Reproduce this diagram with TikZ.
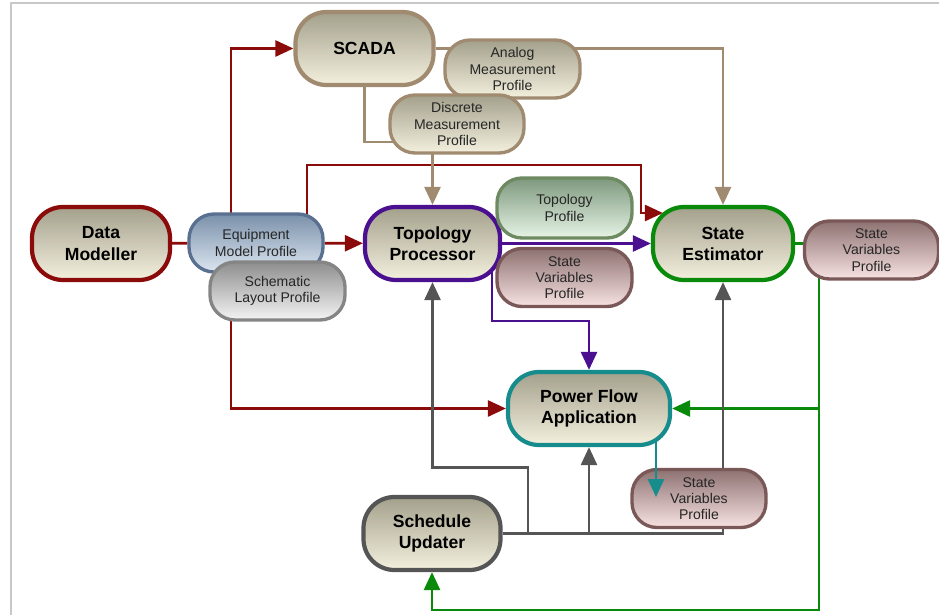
\documentclass[tikz,border=0pt]{standalone}
\usepackage{fontspec}
\setmainfont{Liberation Sans}
\usetikzlibrary{positioning,calc,arrows.meta}
\definecolor{emsRedLine}{HTML}{8B0A0A}
\definecolor{emsTanLine}{HTML}{A08A70}
\definecolor{emsPurpleLine}{HTML}{4A1090}
\definecolor{emsGreenLine}{HTML}{0A8A0A}
\definecolor{emsTealLine}{HTML}{178C8C}
\definecolor{emsGreyLine}{HTML}{555555}
\definecolor{emsBlueLine}{HTML}{5A7090}
\definecolor{emsSilverLine}{HTML}{858585}
\definecolor{emsSageLine}{HTML}{6E8A62}
\definecolor{emsMauveLine}{HTML}{7A5858}
\definecolor{emsBeigeTop}{HTML}{A3A08C}
\definecolor{emsBeigeBot}{HTML}{F4F0DE}
\definecolor{emsBlueTop}{HTML}{7A90AA}
\definecolor{emsBlueBot}{HTML}{DCE6F0}
\definecolor{emsSilverTop}{HTML}{8E8E8E}
\definecolor{emsSilverBot}{HTML}{F4F4F4}
\definecolor{emsSageTop}{HTML}{7E987E}
\definecolor{emsSageBot}{HTML}{E6F4E6}
\definecolor{emsRoseTop}{HTML}{8E7272}
\definecolor{emsRoseBot}{HTML}{F8E2E2}
\definecolor{emsFrame}{HTML}{C8C8C8}
\pgfdeclarelayer{links}
\pgfsetlayers{links,main}
\tikzset{
  app node/.style={
    rectangle, rounded corners=0.62cm, draw=#1,
    line width=2.4pt, minimum width=2.76cm, minimum height=1.46cm,
    top color=emsBeigeTop, bottom color=emsBeigeBot,
    font=\fontsize{10}{12}\selectfont\bfseries, align=center, inner sep=0pt,
  },
  profile node/.style n args={3}{
    rectangle, rounded corners=0.5cm, draw=#1,
    line width=1.9pt, minimum width=2.68cm, minimum height=1.16cm,
    top color=#2, bottom color=#3, text=black!85,
    font=\fontsize{8}{9.2}\selectfont, align=center, inner sep=0pt,
  },
  data flow/.style={
    line width=1.5pt, color=#1, -{Triangle[length=0.36cm,width=0.32cm]},
  },
  data link/.style={
    line width=1.5pt, color=#1,
  },
}

\begin{document}
\begin{tikzpicture}
\useasboundingbox (0,0) rectangle (18.78,-12.3);
% frame of the page
\draw[emsFrame, line width=1pt] (0.22,-12.3) -- (0.22,-0.06) -- (18.78,-0.06);

% Applications
\node[app node=emsRedLine] (dm) at (2.02,-4.87) {Data\\Modeller};
\node[app node=emsTanLine] (scada) at (7.29,-0.97) {SCADA};
\node[app node=emsPurpleLine, minimum width=2.70cm] (tp) at (8.65,-4.87) {Topology\\Processor};
\node[app node=emsGreenLine, minimum width=2.80cm] (se) at (14.46,-4.87) {State\\Estimator};
\node[app node=emsTealLine, minimum width=3.24cm] (pfa) at (11.78,-8.17) {Power Flow\\Application};
\node[app node=emsGreyLine, minimum width=2.74cm] (su) at (8.64,-10.67) {Schedule\\Updater};

% Profiles
\node[profile node={emsBlueLine}{emsBlueTop}{emsBlueBot}] (emp) at (5.12,-4.86) {Equipment\\Model Profile};
\node[profile node={emsSilverLine}{emsSilverTop}{emsSilverBot}, minimum width=2.7cm] (slp) at (5.55,-5.82) {Schematic\\Layout Profile};
\node[profile node={emsTanLine}{emsBeigeTop}{emsBeigeBot}, minimum width=2.7cm] (amp) at (10.25,-1.38) {Analog\\Measurement\\Profile};
\node[profile node={emsTanLine}{emsBeigeTop}{emsBeigeBot}] (dmp) at (9.14,-2.48) {Discrete\\Measurement\\Profile};
\node[profile node={emsSageLine}{emsSageTop}{emsSageBot}, minimum width=2.7cm, minimum height=1.2cm] (topo) at (11.29,-4.16) {Topology\\Profile};
\node[profile node={emsMauveLine}{emsRoseTop}{emsRoseBot}, minimum width=2.7cm] (svtp) at (11.29,-5.55) {State\\Variables\\Profile};
\node[profile node={emsMauveLine}{emsRoseTop}{emsRoseBot}] (svse) at (17.43,-5.0) {State\\Variables\\Profile};
\node[profile node={emsMauveLine}{emsRoseTop}{emsRoseBot}] (svpf) at (13.98,-9.97) {State\\Variables\\Profile};

\begin{pgfonlayer}{links}
% model exchange from the Data Modeller
\draw[data link=emsRedLine] (dm) -- (emp);
\draw[data flow=emsRedLine] (emp) -- (tp);
\draw[data flow=emsRedLine] ($(emp.center)+(-0.5,0)$) |- (scada);
\draw[data flow=emsRedLine] ($(emp.center)+(1.02,0)$) |- (12.82,-3.30) |- ($(se.west)+(0.24,0.61)$);
\draw[data flow=emsRedLine] ($(slp.center)+(-0.93,0)$) |- (pfa);

% measurements from SCADA
\draw[data flow=emsTanLine] (scada) |- ($(tp.north)+(0,1.26)$) -- (tp);
\draw[data flow=emsTanLine] (scada) -| (se);

% topology results
\draw[data flow=emsPurpleLine] (tp) -- (se);
\draw[data flow=emsPurpleLine] ($(tp.center)+(1.19,0)$) |- ($(pfa.north)+(0,0.98)$) -- (pfa);

% state estimate
\draw[data flow=emsGreenLine] (se.east) -- ++(0.48,0) |- (pfa);
\draw[data flow=emsGreenLine] (se.east) -- ++(0.48,0) -- ++(0,-7.33) -| (su);

% schedules
\draw[data flow=emsGreyLine] (su.east) -- ++(0.51,0) -- ++(0,1.32) -| (tp);
\draw[data flow=emsGreyLine] (su) -| (pfa);
\draw[data flow=emsGreyLine] (su) -| (se);
\end{pgfonlayer}

% power flow result
\draw[data flow=emsTealLine] ($(pfa.south)+(1.34,0.1)$) -- ($(svpf.center)+(-0.86,0.03)$);

\end{tikzpicture}
\end{document}
